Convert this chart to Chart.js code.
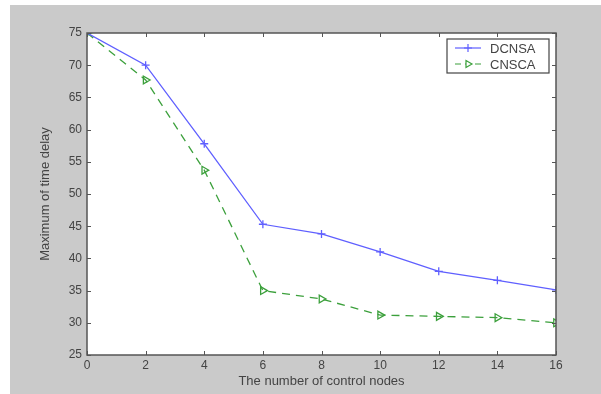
<!DOCTYPE html>
<html>
<head>
<meta charset="utf-8">
<script src="https://cdn.jsdelivr.net/npm/chart.js@4/dist/chart.umd.min.js"></script>
<style>
  html, body { margin: 0; padding: 0; background: #fff; }
  #wrap { width: 601px; height: 394px; position: relative; }
</style>
</head>
<body>
<div id="wrap"><canvas id="chart" width="601" height="394"></canvas></div>
<script>
// number of control nodes
var nodes = [0, 2, 4, 6, 8, 10, 12, 14, 16];
// maximum of time delay
var dcnsa = [75, 70.0, 57.8, 45.3, 43.8, 41.0, 38.0, 36.6, 35.1];
var cnsca = [75, 67.7, 53.7, 35.0, 33.7, 31.2, 31.0, 30.8, 30.0];
var xTicks = [0, 2, 4, 6, 8, 10, 12, 14, 16];
var yTicks = [25, 30, 35, 40, 45, 50, 55, 60, 65, 70, 75];

var blue = 'rgb(95, 95, 255)';
var green = 'rgb(60, 160, 60)';
var axisColor = '#555555';
var textColor = '#444444';
var font = 'Liberation Sans, Arial, sans-serif';

function toPoints(ys) {
  return nodes.map(function (x, i) { return { x: x, y: ys[i] }; });
}

// gray figure background, plot box, inward ticks, legend
var matlabLook = {
  id: 'matlabLook',
  beforeDraw: function (chart) {
    var c = chart.ctx, a = chart.chartArea;
    c.save();
    c.fillStyle = '#cacaca';
    c.fillRect(10, 5, chart.width - 10, chart.height - 5);
    c.fillStyle = '#ffffff';
    c.fillRect(a.left, a.top, a.right - a.left, a.bottom - a.top);
    c.restore();
  },
  afterDatasetsDraw: function (chart) {
    var c = chart.ctx, a = chart.chartArea;
    var xs = chart.scales.x, ys = chart.scales.y;
    c.save();
    c.strokeStyle = axisColor;
    c.lineWidth = 1;
    c.beginPath();
    xTicks.forEach(function (v) {
      var px = Math.round(xs.getPixelForValue(v)) + 0.5;
      c.moveTo(px, a.bottom); c.lineTo(px, a.bottom - 4);
      c.moveTo(px, a.top); c.lineTo(px, a.top + 4);
    });
    yTicks.forEach(function (v) {
      var py = Math.round(ys.getPixelForValue(v)) + 0.5;
      c.moveTo(a.left, py); c.lineTo(a.left + 4, py);
      c.moveTo(a.right, py); c.lineTo(a.right - 4, py);
    });
    c.stroke();
    c.lineWidth = 1.5;
    c.strokeRect(a.left, a.top, a.right - a.left, a.bottom - a.top);

    // legend box
    var lx = 447, ly = 39, lw = 102, lh = 34;
    c.fillStyle = '#ffffff';
    c.fillRect(lx, ly, lw, lh);
    c.strokeStyle = '#444444';
    c.lineWidth = 1.2;
    c.strokeRect(lx, ly, lw, lh);
    var rows = [
      { label: 'DCNSA', color: blue, dash: [], style: 'cross', rot: 0 },
      { label: 'CNSCA', color: green, dash: [6, 4], style: 'triangle', rot: 90 }
    ];
    rows.forEach(function (r, i) {
      var y = ly + 9 + i * 16;
      c.strokeStyle = r.color;
      c.lineWidth = 1.2;
      c.setLineDash(r.dash);
      c.beginPath(); c.moveTo(455, y); c.lineTo(481, y); c.stroke();
      c.setLineDash([]);
      c.fillStyle = '#ffffff';
      Chart.helpers.drawPoint(c, { pointStyle: r.style, radius: 4, rotation: r.rot, borderWidth: 1.2 }, 468, y);
      c.fillStyle = textColor;
      c.font = '13px ' + font;
      c.textBaseline = 'middle';
      c.fillText(r.label, 490, y + 1);
    });
    c.restore();
  }
};

new Chart(document.getElementById('chart'), {
  type: 'line',
  data: {
    datasets: [{
      label: 'DCNSA',
      data: toPoints(dcnsa),
      borderColor: blue,
      backgroundColor: blue,
      borderWidth: 1.3,
      pointStyle: 'cross',
      pointRadius: 4,
      pointBorderWidth: 1.3,
      tension: 0
    }, {
      label: 'CNSCA',
      data: toPoints(cnsca),
      borderColor: green,
      backgroundColor: 'rgba(255,255,255,0)',
      borderWidth: 1.3,
      borderDash: [8, 6],
      pointStyle: 'triangle',
      pointRotation: 90,
      pointRadius: 4.5,
      pointBorderWidth: 1.3,
      tension: 0
    }]
  },
  options: {
    responsive: false,
    animation: false,
    events: [],
    layout: { padding: { left: 0, right: 45, top: 33, bottom: 0 } },
    plugins: { legend: { display: false }, tooltip: { enabled: false } },
    scales: {
      x: {
        type: 'linear',
        min: 0, max: 16,
        afterFit: function (s) { s.height = 39; },
        afterBuildTicks: function (s) { s.ticks = xTicks.map(function (v) { return { value: v }; }); },
        grid: { display: false, drawTicks: false, tickLength: 0 },
        border: { display: false },
        ticks: { color: textColor, font: { family: font, size: 12 }, padding: 3, maxRotation: 0 },
        title: { display: true, text: 'The number of control nodes', color: textColor, font: { family: font, size: 13 }, padding: { top: 0, bottom: 5 } }
      },
      y: {
        min: 25, max: 75,
        afterFit: function (s) { s.width = 87; },
        afterBuildTicks: function (s) { s.ticks = yTicks.map(function (v) { return { value: v }; }); },
        grid: { display: false, drawTicks: false, tickLength: 0 },
        border: { display: false },
        ticks: { color: textColor, font: { family: font, size: 12 }, padding: 5 },
        title: { display: true, text: 'Maximum of time delay', color: textColor, font: { family: font, size: 13 }, padding: { top: 38, bottom: 0 } }
      }
    }
  },
  plugins: [matlabLook]
});
</script>
</body>
</html>
